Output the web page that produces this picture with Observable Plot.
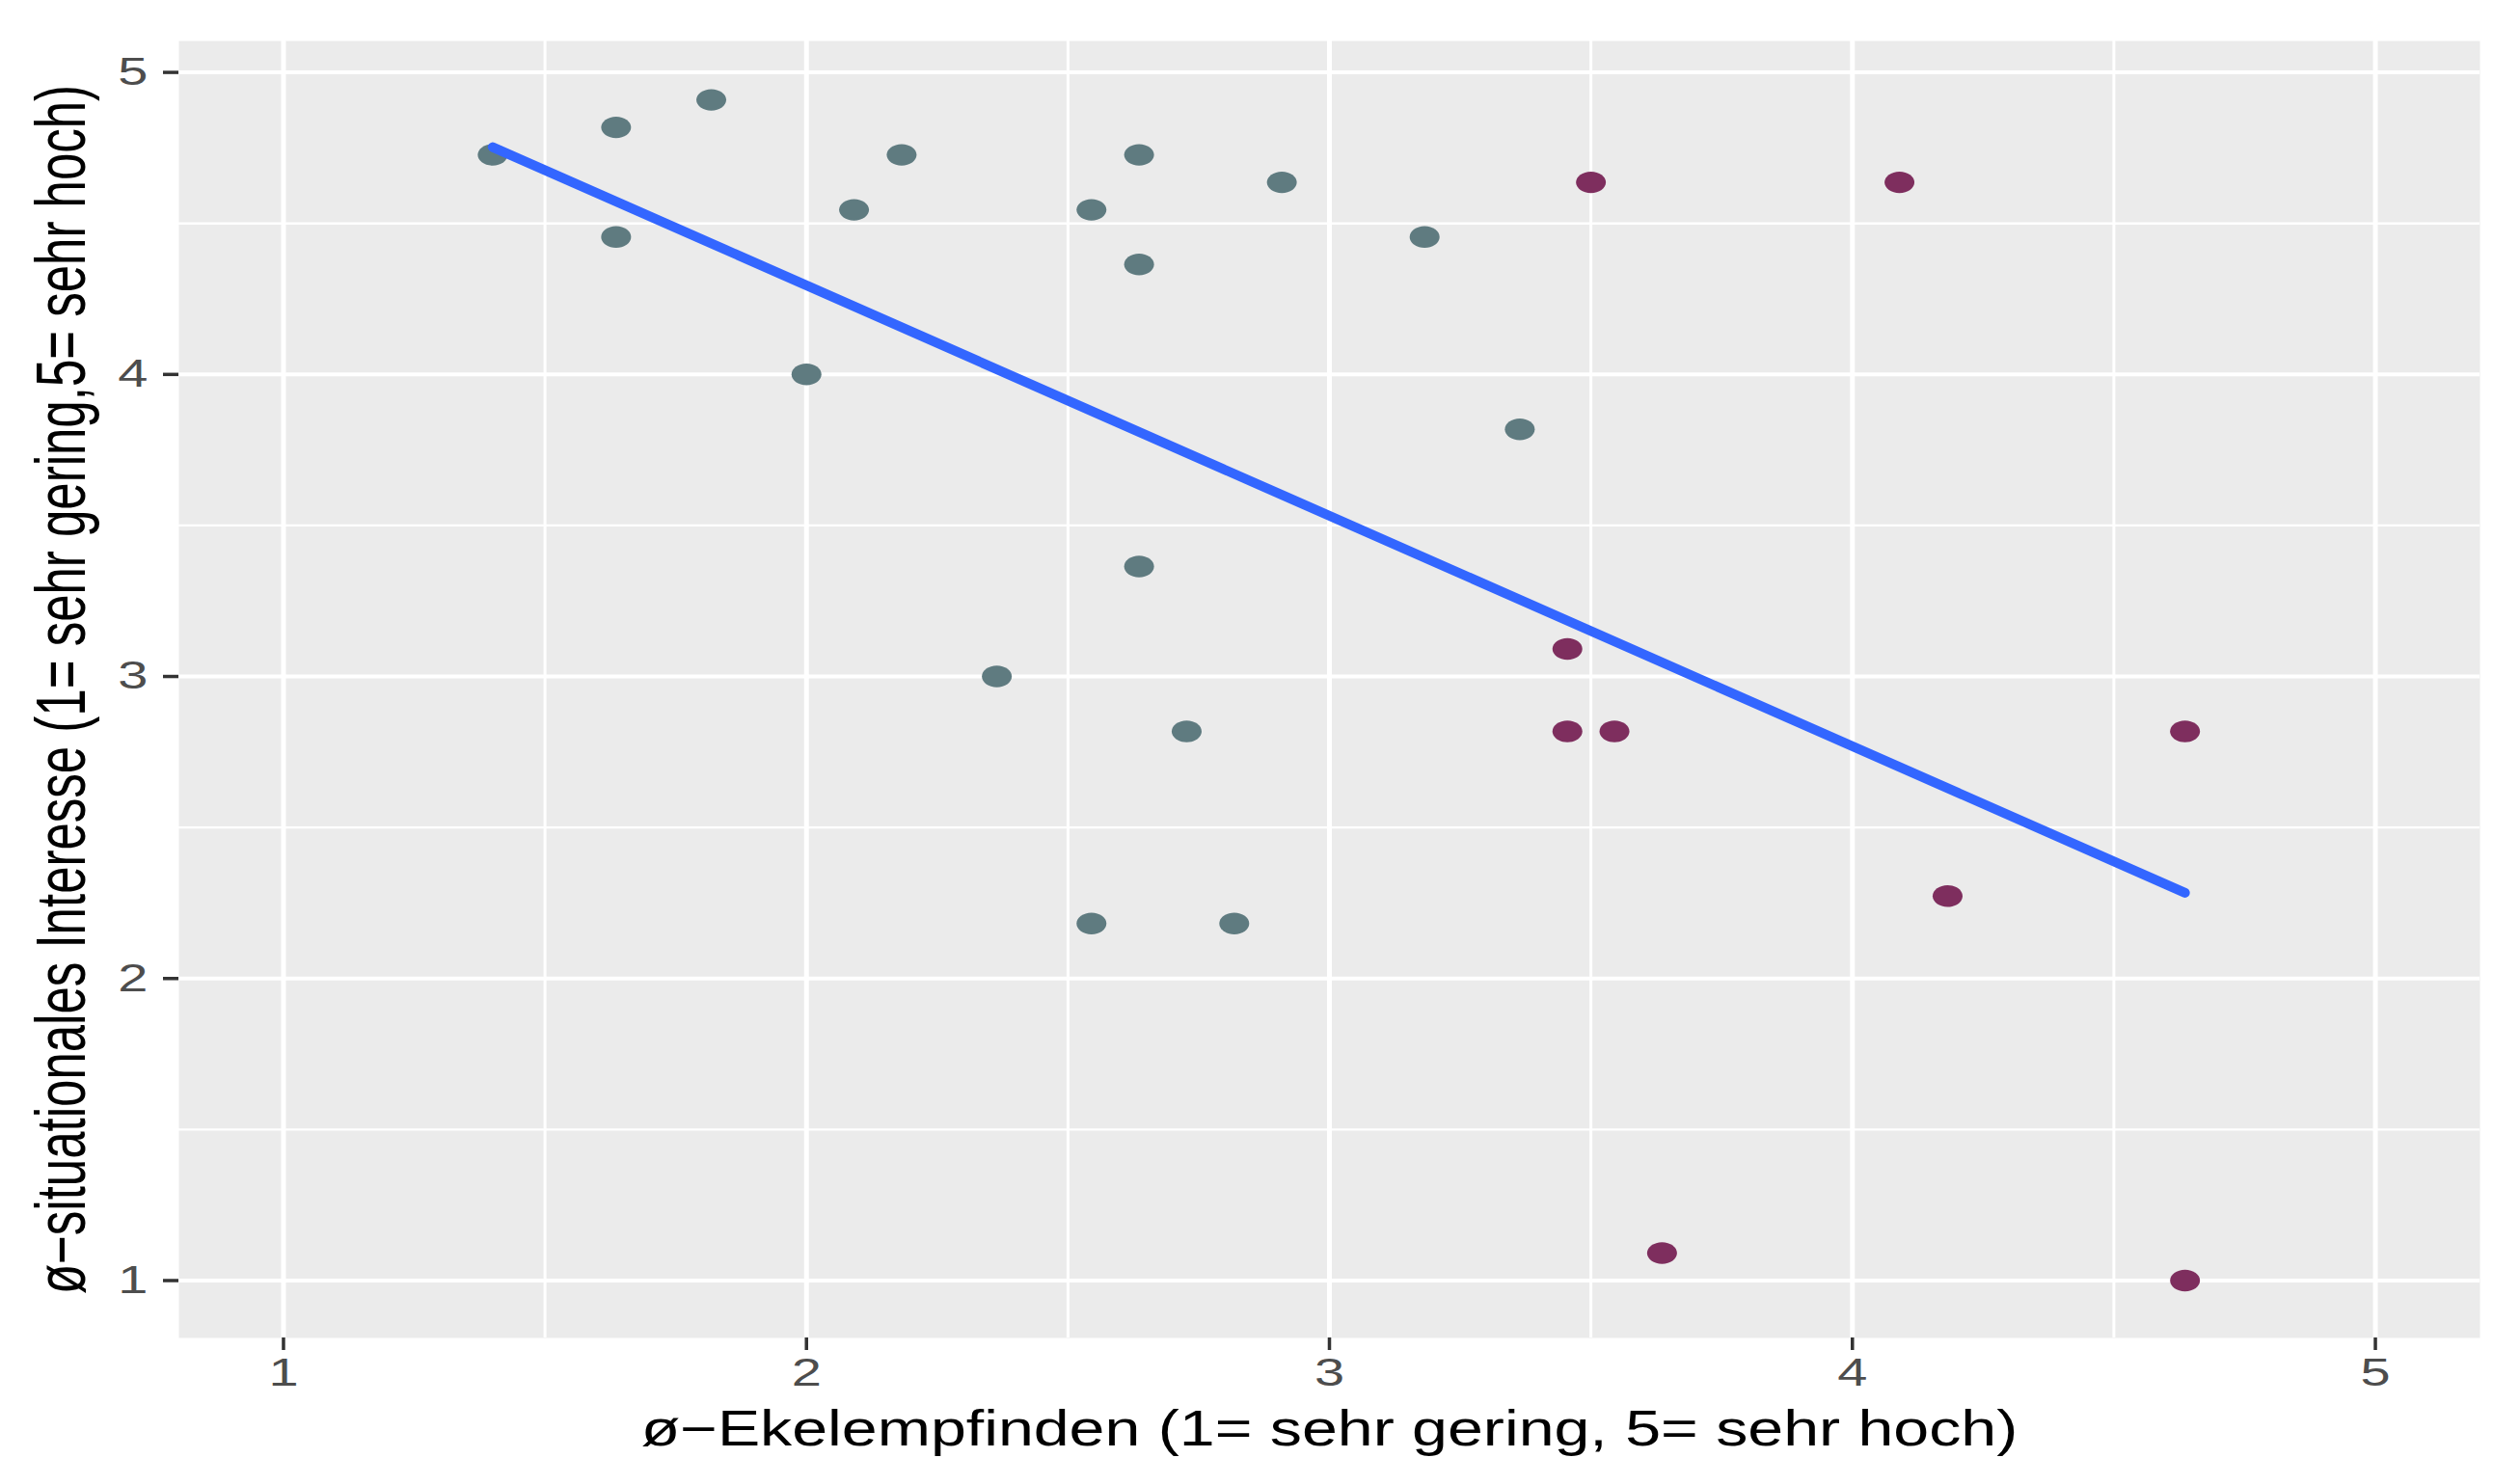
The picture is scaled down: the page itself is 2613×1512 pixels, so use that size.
<!DOCTYPE html>
<html>
<head>
<meta charset="utf-8">
<script src="https://cdn.jsdelivr.net/npm/d3@7"></script>
<script src="https://cdn.jsdelivr.net/npm/@observablehq/plot@0.6"></script>
<style>
  html, body { margin: 0; padding: 0; background: #ffffff; }
  #chart { width: 2613px; height: 1512px; overflow: hidden; }
</style>
</head>
<body>
<div id="chart"></div>
<script>
// ---- data ----
const grayX   = [1.40, 1.636, 1.818, 1.636, 2.00, 2.091, 2.182, 2.545, 2.636, 2.636, 2.909, 3.182, 3.364, 2.636, 2.364, 2.727, 2.545, 2.818];
const grayY   = [4.727, 4.818, 4.909, 4.455, 4.00, 4.545, 4.727, 4.545, 4.727, 4.364, 4.636, 4.455, 3.818, 3.364, 3.00, 2.818, 2.182, 2.182];
const purpleX = [3.50, 4.09, 3.455, 3.455, 3.545, 4.636, 4.182, 3.636, 4.636];
const purpleY = [4.636, 4.636, 3.091, 2.818, 2.818, 2.818, 2.273, 1.091, 1.00];

const xTicks = [1, 2, 3, 4, 5];
const yTicks = [1, 2, 3, 4, 5];
const xMinor = [1.5, 2.5, 3.5, 4.5];
const yMinor = [1.5, 2.5, 3.5, 4.5];

const xTitle = "ø−Ekelempfinden (1= sehr gering, 5= sehr hoch)";
const yTitle = "ø−situationales Interesse (1= sehr gering,5= sehr hoch)";

const grayPts = grayX.map((x, i) => ({x, y: grayY[i], g: "gray"}));
const purplePts = purpleX.map((x, i) => ({x, y: purpleY[i], g: "purple"}));
const allPts = grayPts.concat(purplePts);

// horizontally stretched (elliptical) point symbol
const ellipse = {
  draw(ctx) {
    const rx = 15.5, ry = 11.2, k = 0.5523;
    ctx.moveTo(rx, 0);
    ctx.bezierCurveTo(rx, ry * k, rx * k, ry, 0, ry);
    ctx.bezierCurveTo(-rx * k, ry, -rx, ry * k, -rx, 0);
    ctx.bezierCurveTo(-rx, -ry * k, -rx * k, -ry, 0, -ry);
    ctx.bezierCurveTo(rx * k, -ry, rx, -ry * k, rx, 0);
    ctx.closePath();
  }
};

const chart = Plot.plot({
  width: 2613,
  height: 1512,
  marginLeft: 185,
  marginRight: 42,
  marginTop: 42,
  marginBottom: 125,
  style: {fontFamily: "'Liberation Sans', Arial, sans-serif", background: "white"},
  x: {domain: [0.8, 5.2]},
  y: {domain: [0.81, 5.104]},
  marks: [
    Plot.frame({fill: "#EBEBEB", stroke: null}),
    Plot.ruleX(xMinor, {stroke: "white", strokeWidth: 3}),
    Plot.ruleY(yMinor, {stroke: "white", strokeWidth: 2.4}),
    Plot.ruleX(xTicks, {stroke: "white", strokeWidth: 5}),
    Plot.ruleY(yTicks, {stroke: "white", strokeWidth: 4}),
    Plot.dot(grayPts, {x: "x", y: "y", fill: "#5F7B80", stroke: null, symbol: ellipse, r: 14}),
    Plot.dot(purplePts, {x: "x", y: "y", fill: "#7E2E5E", stroke: null, symbol: ellipse, r: 14}),
    Plot.linearRegressionY(allPts, {x: "x", y: "y", ci: 0, stroke: "#3366FF", strokeWidth: 10}),
    Plot.axisX({ticks: xTicks, tickSize: 13, tickPadding: 8, fontSize: 40, stroke: "#333333", strokeWidth: 3.5, fill: "#4D4D4D", label: null, tickFormat: d => String(d)}),
    Plot.axisY({ticks: yTicks, tickSize: 16, tickPadding: 16, fontSize: 40, stroke: "#333333", strokeWidth: 3.5, fill: "#4D4D4D", label: null, tickFormat: d => String(d)}),
    Plot.text([xTitle], {frameAnchor: "bottom", dy: 111, textAnchor: "middle", lineAnchor: "bottom", fontSize: 51, fill: "#000000", text: d => d}),
    Plot.text([yTitle], {frameAnchor: "left", dx: -120, rotate: -90, textAnchor: "middle", lineAnchor: "middle", fontSize: 51, fill: "#000000", text: d => d})
  ]
});

document.getElementById("chart").appendChild(chart);

// the reference image is stretched horizontally: widen the glyphs accordingly
d3.select(chart).selectAll("text").each(function () {
  const t = d3.select(this);
  const tr = t.attr("transform");
  const parentTr = this.parentNode && this.parentNode.getAttribute ? (this.parentNode.getAttribute("transform") || "") : "";
  const txt = t.text();
  const rotated = (tr && tr.includes("rotate")) || parentTr.includes("rotate") || txt === yTitle;
  const s = txt === xTitle ? 1.3 : 1.4;
  const sc = rotated ? ` scale(1,${s})` : ` scale(${s},1)`;
  if (tr) {
    t.attr("transform", tr + sc);
  } else {
    const x = +(t.attr("x") || 0), y = +(t.attr("y") || 0);
    t.attr("x", null).attr("y", null);
    t.attr("transform", `translate(${x},${y})` + sc);
  }
});
</script>
</body>
</html>
